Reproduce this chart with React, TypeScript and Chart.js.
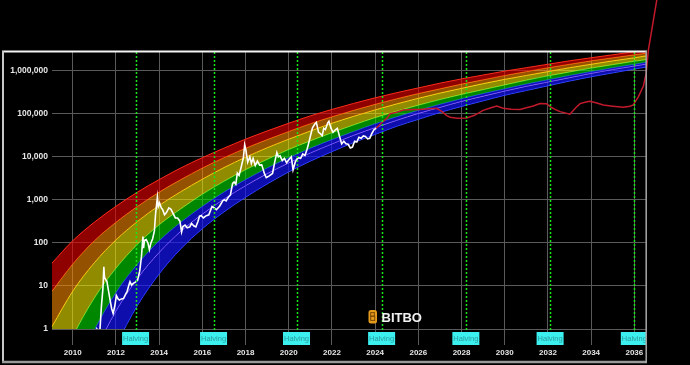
import { useEffect, useRef } from 'react';
import { Chart, registerables } from 'chart.js';

Chart.register(...registerables);

// ---------- axis data ----------
const xMin = 2009.04;
const xMax = 2036.54;
const yMin = 1;
const yMax = 2720000;
const xTickYears = [2010, 2012, 2014, 2016, 2018, 2020, 2022, 2024, 2026, 2028, 2030, 2032, 2034, 2036];
const yTickValues = [1, 10, 100, 1000, 10000, 100000, 1000000];
const halvingYears = [2012.91, 2016.52, 2020.36, 2024.3, 2028.2, 2032.1, 2036.0];
const halvingLabel = 'Halving';

// ---------- rainbow band boundaries (log10 of USD) ----------
const bandYears = [2009.04, 2010, 2011, 2012, 2013, 2014, 2015, 2016, 2017, 2018, 2019, 2020, 2021, 2022, 2023, 2024, 2025, 2026, 2027, 2028, 2029, 2030, 2031, 2032, 2033, 2034, 2035, 2036, 2036.6];
const redTopLog = [1.53, 2.05, 2.48, 2.85, 3.18, 3.47, 3.74, 3.98, 4.2, 4.41, 4.6, 4.78, 4.95, 5.1, 5.24, 5.37, 5.49, 5.6, 5.71, 5.81, 5.9, 5.99, 6.07, 6.15, 6.23, 6.3, 6.37, 6.44, 6.48];
const redOrangeLog = [0.88, 1.51, 2.05, 2.48, 2.85, 3.18, 3.47, 3.74, 3.98, 4.2, 4.4, 4.59, 4.77, 4.93, 5.08, 5.22, 5.35, 5.47, 5.58, 5.69, 5.79, 5.89, 5.98, 6.07, 6.15, 6.23, 6.3, 6.37, 6.41];
const orangeYellowLog = [0.06, 0.88, 1.54, 2.07, 2.5, 2.87, 3.19, 3.48, 3.75, 3.99, 4.21, 4.41, 4.6, 4.78, 4.94, 5.09, 5.23, 5.36, 5.48, 5.59, 5.7, 5.8, 5.89, 5.98, 6.07, 6.15, 6.23, 6.3, 6.35];
const yellowGreenLog = [-1.18, -0.17, 0.72, 1.41, 1.97, 2.42, 2.79, 3.13, 3.43, 3.7, 3.94, 4.17, 4.37, 4.56, 4.74, 4.91, 5.06, 5.2, 5.33, 5.45, 5.56, 5.67, 5.78, 5.88, 5.97, 6.06, 6.14, 6.22, 6.26];
const greenBlueLog = [-2.15, -1.05, -0.02, 0.85, 1.51, 2.05, 2.48, 2.85, 3.18, 3.47, 3.74, 3.98, 4.2, 4.4, 4.59, 4.77, 4.93, 5.08, 5.22, 5.35, 5.47, 5.58, 5.69, 5.79, 5.89, 5.98, 6.07, 6.15, 6.2];
const purpleLog = [-2.8, -1.63, -0.54, 0.42, 1.18, 1.78, 2.27, 2.67, 3.02, 3.33, 3.61, 3.86, 4.09, 4.3, 4.5, 4.68, 4.85, 5.01, 5.15, 5.29, 5.41, 5.53, 5.64, 5.74, 5.84, 5.94, 6.03, 6.11, 6.16];
const blueBottomLog = [-3.97, -2.66, -1.45, -0.38, 0.55, 1.28, 1.86, 2.33, 2.72, 3.06, 3.37, 3.65, 3.9, 4.12, 4.33, 4.52, 4.71, 4.87, 5.03, 5.17, 5.3, 5.43, 5.54, 5.65, 5.76, 5.86, 5.95, 6.04, 6.09];

// ---------- BTC price history (USD) ----------
const priceYears = [
  2010.55, 2010.85, 2011.0, 2011.12, 2011.25, 2011.33, 2011.4, 2011.44, 2011.47, 2011.52,
  2011.58, 2011.65, 2011.72, 2011.8, 2011.87, 2011.95, 2012.02, 2012.1, 2012.16, 2012.25,
  2012.35, 2012.45, 2012.52, 2012.6, 2012.65, 2012.72, 2012.8, 2012.9, 2013.0, 2013.1,
  2013.18, 2013.25, 2013.28, 2013.32, 2013.4, 2013.48, 2013.55, 2013.62, 2013.7, 2013.78,
  2013.84, 2013.92, 2013.96, 2014.02, 2014.1, 2014.16, 2014.25, 2014.33, 2014.45, 2014.55,
  2014.65, 2014.75, 2014.85, 2014.96, 2015.04, 2015.1, 2015.2, 2015.3, 2015.42, 2015.5,
  2015.6, 2015.7, 2015.8, 2015.87, 2015.95, 2016.05, 2016.15, 2016.3, 2016.45, 2016.55,
  2016.65, 2016.8, 2016.95, 2017.02, 2017.1, 2017.2, 2017.3, 2017.4, 2017.47, 2017.55,
  2017.62, 2017.7, 2017.8, 2017.9, 2017.96, 2018.02, 2018.1, 2018.2, 2018.27, 2018.35,
  2018.45, 2018.55, 2018.65, 2018.75, 2018.88, 2018.96, 2019.1, 2019.25, 2019.35, 2019.45,
  2019.52, 2019.6, 2019.7, 2019.8, 2019.9, 2020.0, 2020.12, 2020.2, 2020.3, 2020.42,
  2020.55, 2020.65, 2020.75, 2020.85, 2020.95, 2021.02, 2021.1, 2021.2, 2021.28, 2021.38,
  2021.45, 2021.55, 2021.62, 2021.7, 2021.8, 2021.86, 2021.95, 2022.05, 2022.15, 2022.25,
  2022.35, 2022.45, 2022.55, 2022.65, 2022.75, 2022.85, 2022.95, 2023.05, 2023.15, 2023.25,
  2023.35, 2023.45, 2023.55, 2023.65, 2023.75, 2023.85, 2023.95, 2024.05,
];
const priceValues = [
  0.06, 0.28, 0.3, 1.0, 0.8, 3.5, 9, 28, 16, 14,
  13, 8, 5, 3, 2.3, 3.5, 6, 5, 4.7, 5,
  5.1, 6.5, 7.5, 10.5, 12.5, 10.5, 11.5, 12.3, 13.5, 22,
  47, 140, 75, 115, 120, 100, 70, 100, 125, 190,
  500, 1150, 700, 850, 650, 600, 450, 500, 650, 600,
  480, 380, 380, 320, 180, 240, 260, 225, 235, 285,
  250, 235, 320, 420, 430, 380, 420, 450, 700, 650,
  590, 710, 960, 1000, 950, 1150, 1300, 2400, 2600, 2300,
  4200, 3700, 5800, 9500, 19000, 14000, 7500, 10000, 7000, 9200,
  6300, 8000, 6400, 6500, 4000, 3300, 3600, 4100, 7500, 12500,
  10000, 10500, 8200, 9200, 7300, 8500, 10000, 5000, 7500, 9500,
  9200, 11700, 10700, 15000, 23500, 33000, 47000, 57000, 63000, 37000,
  35000, 31000, 46000, 43000, 61000, 67000, 47000, 37000, 42000, 46000,
  30000, 20000, 23000, 20000, 19500, 16000, 16800, 23000, 22000, 28500,
  27000, 30500, 29500, 26000, 27000, 35000, 43000, 46000,
];

// ---------- projection (USD) ----------
const forecastYears = [
  2024.05, 2024.3, 2024.54, 2024.69, 2025.0, 2025.3, 2025.75, 2026.1, 2026.5, 2026.85,
  2027.1, 2027.3, 2027.47, 2027.8, 2028.24, 2028.6, 2029.0, 2029.4, 2029.63, 2029.93,
  2030.3, 2030.71, 2031.0, 2031.32, 2031.63, 2031.94, 2032.1, 2032.35, 2032.56, 2033.02,
  2033.3, 2033.49, 2033.8, 2033.95, 2034.3, 2034.56, 2035.0, 2035.49, 2035.8, 2035.95,
  2036.19, 2036.42, 2036.55, 2036.65, 2037.04, 2037.3,
];
const forecastValues = [
  46000, 62000, 78000, 100000, 108000, 122000, 126000, 126000, 130000, 134000,
  112000, 92000, 83000, 79000, 80000, 92000, 120000, 140000, 151000, 134000,
  128000, 126000, 138000, 151000, 172000, 170000, 146000, 125000, 112000, 98000,
  140000, 172000, 190000, 195000, 175000, 160000, 150000, 141000, 150000, 160000,
  250000, 440000, 890000, 3000000, 44000000, 300000000,
];

const FONT_NARROW = '"Liberation Sans Narrow", "Liberation Sans", Arial, sans-serif';

function xy(xs: number[], ys: number[]) {
  return xs.map((x, i) => ({ x, y: ys[i] }));
}
function band(logs: number[]) {
  return bandYears.map((x, i) => ({ x, y: Math.pow(10, logs[i]) }));
}

const overlayPlugin = {
  id: 'overlay',
  afterDatasetsDraw(chart: any) {
    const { ctx, chartArea } = chart;
    const xs = chart.scales.x;
    ctx.save();
    ctx.strokeStyle = '#19e619';
    ctx.lineWidth = 1.5;
    ctx.setLineDash([2, 2]);
    halvingYears.forEach((yr) => {
      const px = Math.round(xs.getPixelForValue(yr)) + 0.5;
      if (px < chartArea.left || px > chartArea.right + 1) return;
      ctx.beginPath();
      ctx.moveTo(px, chartArea.top);
      ctx.lineTo(px, 332);
      ctx.stroke();
    });
    ctx.restore();
  },
  afterDraw(chart: any) {
    const { ctx, chartArea } = chart;
    const xs = chart.scales.x;
    ctx.save();
    // halving labels
    ctx.save();
    ctx.beginPath();
    ctx.rect(0, 0, chartArea.right, 365);
    ctx.clip();
    halvingYears.forEach((yr) => {
      const px = xs.getPixelForValue(yr);
      ctx.fillStyle = '#3cf0f0';
      ctx.fillRect(px - 13.5, 332, 27, 13);
      ctx.fillStyle = '#2a9c9c';
      ctx.font = '7.5px ' + FONT_NARROW;
      ctx.textAlign = 'center';
      ctx.textBaseline = 'middle';
      ctx.fillText(halvingLabel, px, 338.8);
    });
    ctx.restore();

    // logo
    ctx.fillStyle = '#e39b1c';
    ctx.beginPath();
    (ctx as any).roundRect(368.5, 310, 8.5, 13.5, 2.5);
    ctx.fill();
    ctx.strokeStyle = '#7a4606';
    ctx.lineWidth = 1;
    ctx.strokeRect(370.7, 312.6, 3.6, 3.6);
    ctx.strokeRect(370.7, 316.2, 4, 4.2);
    ctx.fillStyle = '#f2f2f2';
    ctx.font = 'bold 13px "Liberation Sans", Arial, sans-serif';
    ctx.textAlign = 'left';
    ctx.textBaseline = 'alphabetic';
    ctx.fillText('BITBO', 381.5, 321.8);

    // frame
    ctx.lineCap = 'butt';
    ctx.strokeStyle = '#f4f4f4';
    ctx.lineWidth = 2;
    ctx.beginPath();
    ctx.moveTo(2, 51.5);
    ctx.lineTo(647, 51.5);
    ctx.stroke();
    ctx.strokeStyle = '#c8c8c8';
    ctx.beginPath();
    ctx.moveTo(3, 51);
    ctx.lineTo(3, 363);
    ctx.stroke();
    ctx.strokeStyle = '#9a9a9a';
    ctx.lineWidth = 2.5;
    ctx.beginPath();
    ctx.moveTo(2, 362);
    ctx.lineTo(647, 362);
    ctx.stroke();
    ctx.strokeStyle = '#a8a8a8';
    ctx.lineWidth = 1.5;
    ctx.beginPath();
    ctx.moveTo(646.2, 51);
    ctx.lineTo(646.2, 363);
    ctx.stroke();
    ctx.restore();
  },
};

export default function App() {
  const ref = useRef<HTMLCanvasElement | null>(null);

  useEffect(() => {
    document.body.style.margin = '0';
    document.body.style.background = '#000';
    const canvas = ref.current;
    if (!canvas) return;

    const bandLine = (label: string, logs: number[], line: string, fillColor: string | null) => ({
      label,
      data: band(logs),
      borderColor: line,
      borderWidth: 1,
      backgroundColor: fillColor || 'transparent',
      fill: fillColor ? '+1' : false,
      pointRadius: 0,
      cubicInterpolationMode: 'monotone',
    });

    const chart = new Chart(canvas, {
      type: 'line',
      data: {
        datasets: [
          {
            label: 'Price',
            data: xy(priceYears, priceValues),
            borderColor: '#ffffff',
            borderWidth: 1.6,
            pointRadius: 0,
            fill: false,
            tension: 0,
          },
          {
            label: 'Projection',
            data: xy(forecastYears, forecastValues),
            borderColor: '#c21a2c',
            borderWidth: 1.5,
            pointRadius: 0,
            fill: false,
            tension: 0,
            clip: false,
          },
          bandLine('Red top', redTopLog, '#ff2a1a', 'rgba(230,0,0,0.62)'),
          bandLine('Red / orange', redOrangeLog, '#ff8a14', 'rgba(255,140,0,0.58)'),
          bandLine('Orange / yellow', orangeYellowLog, '#ffe21a', 'rgba(250,240,0,0.58)'),
          bandLine('Yellow / green', yellowGreenLog, '#45d83a', 'rgba(0,225,0,0.6)'),
          bandLine('Green / blue', greenBlueLog, '#2a3cff', 'rgba(20,20,255,0.68)'),
          bandLine('Purple', purpleLog, '#b07cff', 'rgba(20,20,255,0.68)'),
          bandLine('Blue bottom', blueBottomLog, '#3a55ff', null),
        ] as any,
      },
      options: {
        responsive: false,
        animation: false,
        devicePixelRatio: 1,
        events: [],
        layout: { padding: { top: 52, right: 44, left: 0, bottom: 0 } },
        plugins: {
          legend: { display: false },
          tooltip: { enabled: false },
        },
        scales: {
          x: {
            type: 'linear',
            bounds: 'data',
            afterDataLimits: (s: any) => {
              s.min = xMin;
              s.max = xMax;
            },
            afterBuildTicks: (s: any) => {
              s.ticks = xTickYears.map((v) => ({ value: v }));
            },
            afterFit: (s: any) => {
              s.height = 36;
            },
            grid: { color: '#5a5a5a', lineWidth: 1, tickLength: 16, drawTicks: true },
            border: { display: false },
            ticks: {
              color: '#e6e6e6',
              padding: 3,
              maxRotation: 0,
              autoSkip: false,
              font: { family: FONT_NARROW, size: 8, weight: 'bold' },
              callback: (v: any) => String(v),
            },
          },
          y: {
            type: 'logarithmic',
            min: yMin,
            max: yMax,
            bounds: 'data',
            afterBuildTicks: (s: any) => {
              s.ticks = yTickValues.map((v) => ({ value: v }));
            },
            afterFit: (s: any) => {
              s.width = 52;
            },
            grid: { color: '#5a5a5a', lineWidth: 1, drawTicks: false },
            border: { display: false },
            ticks: {
              color: '#e6e6e6',
              padding: 4,
              font: { family: FONT_NARROW, size: 8.5, weight: 'bold' },
              callback: (v: any) => Number(v).toLocaleString('en-US'),
            },
          },
        },
      } as any,
      plugins: [overlayPlugin as any],
    });

    return () => {
      chart.destroy();
    };
  }, []);

  return (
    <div style={{ position: 'fixed', left: 0, top: 0, width: 690, height: 365, background: '#000', overflow: 'hidden' }}>
      <canvas ref={ref} width={690} height={365} style={{ display: 'block', width: 690, height: 365 }} />
    </div>
  );
}
